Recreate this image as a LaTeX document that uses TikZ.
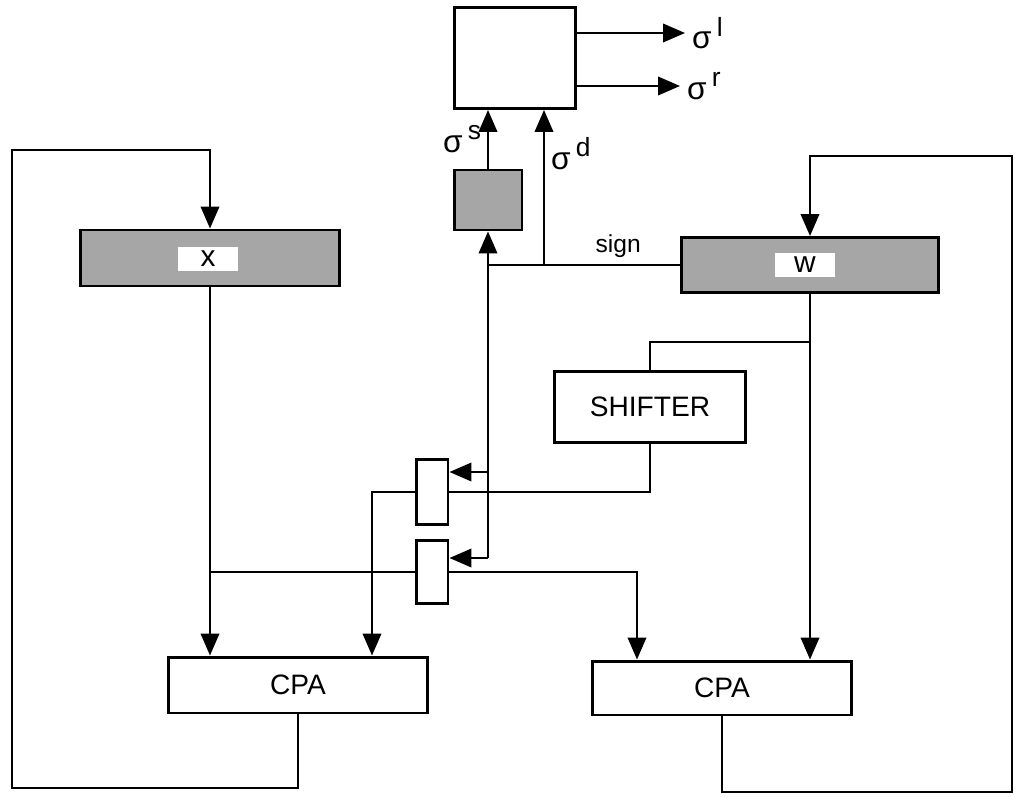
\documentclass[tikz,border=0pt]{standalone}
\usepackage{fontspec}
\setmainfont{Liberation Sans}
\usetikzlibrary{arrows.meta}
\newcommand{\sgm}[1]{σ\,\raisebox{0.75ex}{\fontsize{15}{17}\selectfont #1}}

\begin{document}
\begin{tikzpicture}[x=0.02cm, y=-0.02cm, line width=1.3pt,
  box/.style={draw, line width=1.7pt, fill=white, inner sep=0pt, font=\fontsize{16}{18}\selectfont},
  reg/.style={draw, line width=1.7pt, fill=black!35, inner sep=0pt},
  lbl/.style={fill=white, inner sep=0pt, minimum width=1.2cm, minimum height=0.48cm, font=\fontsize{17}{19}\selectfont},
  arr/.style={-{Triangle[length=12.5pt, width=10.5pt]}},
  sg/.style={font=\fontsize{18}{20}\selectfont}]
\useasboundingbox (0,0) rectangle (1017,797);
% blocks
\node[box, minimum width=2.42cm, minimum height=2.02cm] (sel) at (515,58) {};
\node[reg, minimum width=1.36cm, minimum height=1.2cm] (sreg) at (488,200) {};
\node[reg, minimum width=5.2cm, minimum height=1.12cm] (xreg) at (210,258) {};
\node[lbl] (xname) at (208,259) {x};
\node[reg, minimum width=5.16cm, minimum height=1.1cm] (wreg) at (810,265) {};
\node[lbl] (wname) at (805,265) {w};
\node[box, minimum width=3.82cm, minimum height=1.42cm] (shift) at (650,407) {SHIFTER};
\node[box, minimum width=0.64cm, minimum height=1.3cm] (mux1) at (432,492) {};
\node[box, minimum width=0.64cm, minimum height=1.26cm] (mux2) at (432,572) {};
\node[box, minimum width=5.2cm, minimum height=1.12cm] (cpal) at (298,685) {CPA};
\node[box, minimum width=5.18cm, minimum height=1.08cm] (cpar) at (722,688) {CPA};
% bends and free ends
\coordinate (ol) at (685,33);
\coordinate (or) at (680,86);
\coordinate (bj) at (488,558);
\coordinate (m1) at (488,472);
\coordinate (sdj) at (544,265);
\coordinate (wj) at (810,342);
\coordinate (c1) at (372,0);
\coordinate (c2) at (637,0);
\coordinate (lb) at (12,788);
\coordinate (lt) at (12,150);
\coordinate (rb) at (1012,792);
\coordinate (rt) at (1012,156);
% outputs of the top block
\draw[arr] (sel.east |- ol) -- (ol) node[right, sg] {\sgm{l}};
\draw[arr] (sel.east |- or) -- (or) node[right, sg] {\sgm{r}};
\draw[arr] (sreg.north) -- (sreg.north |- sel.south) node[midway, left, sg] {\sgm{s}};
\draw[arr] (sdj) -- (sdj |- sel.south) node[pos=0.72, right, sg] {\sgm{d}};
% sign bus
\draw (wreg.west) -- (wreg.west -| bj) node[pos=0.32, above, font=\fontsize{14}{16}\selectfont] {sign};
\draw[arr] (bj) -- (sreg.south);
\draw[arr] (m1) -- (m1 -| mux1.east);
\draw[arr] (bj) -- (bj -| mux2.east);
% loops
\draw[arr] (cpal.south) |- (lb) -- (lt) -| (xreg.north);
\draw[arr] (cpar.south) |- (rb) -- (rt) -| (wreg.north);
% data paths
\draw[arr] (xreg.south) -- (xreg.south |- cpal.north);
\draw (mux2.west) -- (mux2.west -| xreg.south);
\draw[arr] (mux1.west) -| (c1 |- cpal.north);
\draw[arr] (mux2.east) -| (c2 |- cpar.north);
\draw[arr] (wreg.south) -- (wreg.south |- cpar.north);
\draw (wj) -| (shift.north);
\draw (shift.south) |- (mux1.east);
\end{tikzpicture}
\end{document}
